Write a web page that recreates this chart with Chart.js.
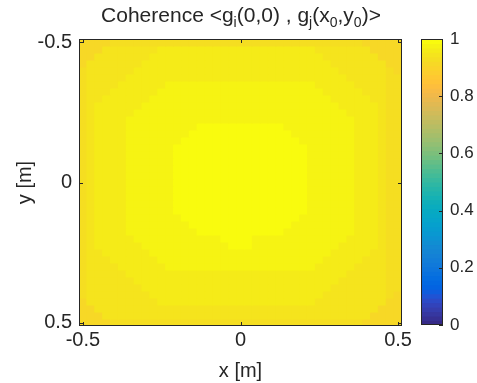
<!DOCTYPE html>
<html>
<head>
<meta charset="utf-8">
<script src="https://cdn.jsdelivr.net/npm/chart.js@4.4.1/dist/chart.umd.min.js"></script>
<style>
  body { margin: 0; background: #fff; }
  #wrap { position: relative; width: 477px; height: 383px; overflow: hidden; }
  #main { position: absolute; left: 0; top: 0; }
  #cbar { position: absolute; left: 400px; top: 0; }
  #title {
    position: absolute; left: 0; top: 4px; width: 482px; text-align: center;
    font: 21px "Liberation Sans", Arial, sans-serif;
    line-height: 22px; color: #262626; white-space: nowrap;
  }
  #title sub { font-size: 14px; vertical-align: -5px; line-height: 0; }
</style>
</head>
<body>
<div id="wrap">
  <canvas id="main" width="477" height="383"></canvas>
  <canvas id="cbar" width="77" height="383"></canvas>
  <div id="title">Coherence &lt;g<sub>i</sub>(0,0) , g<sub>j</sub>(x<sub>0</sub>,y<sub>0</sub>)&gt;</div>
</div>
<script>
// grid positions (m), used for both x and y
const gridPos = [-0.5, -0.475, -0.45, -0.425, -0.4, -0.375, -0.35, -0.325, -0.3, -0.275,
  -0.25, -0.225, -0.2, -0.175, -0.15, -0.125, -0.1, -0.075, -0.05, -0.025, 0,
  0.025, 0.05, 0.075, 0.1, 0.125, 0.15, 0.175, 0.2, 0.225, 0.25, 0.275, 0.3,
  0.325, 0.35, 0.375, 0.4, 0.425, 0.45, 0.475, 0.5];

// coherence, one string per row (top row = y -0.5)
// each digit d means 0.9 + d/100 ; spaces are only for reading
const coherenceRows = [
  "2222 3333333333 3333333333 3333333333 33 22222",
  "222 5555555 6666666666 6666666666 5555555 2222",
  "22 5555555 6666666666 6666666666 66 5555555 222",
  "2 5555555 6666666666 6666666666 6666 5555555 22",
  "3 555555 6666666666 6666666666 666666 555555 3 2",
  "3 55555 6666666666 6666666666 66666666 55555 33",
  "3 5555 666666 7777777777 777777777 66666 5555 33",
  "3 555 666666 7777777777 7777777777 7 66666 555 33",
  "3 55 666666 7777777777 7777777777 777 66666 55 33",
  "3 5 666666 7777777777 7777777777 77777 66666 5 33",
  "3 5 66666 7777777777 7777777777 7777777 6666 5 33",
  "3 5 6666 7777777777 7777777777 777777777 666 5 33",
  "3 5 6666 777777777 9999999999 9 777777777 666 5 33",
  "3 5 6666 77777777 9999999999 999 77777777 666 5 33",
  "3 5 6666 7777777 9999999999 99999 7777777 666 5 33",
  "3 5 6666 777777 9999999999 9999999 777777 666 5 33",
  "3 5 6666 777777 9999999999 9999999 777777 666 5 33",
  "3 5 6666 777777 9999999999 9999999 777777 666 5 33",
  "3 5 6666 777777 9999999999 9999999 777777 666 5 33",
  "3 5 6666 777777 9999999999 9999999 777777 666 5 33",
  "3 5 6666 777777 9999999999 9999999 777777 666 5 33",
  "3 5 6666 777777 9999999999 9999999 777777 666 5 33",
  "3 5 6666 777777 9999999999 9999999 777777 666 5 33",
  "3 5 6666 777777 9999999999 9999999 777777 666 5 33",
  "3 5 6666 777777 9999999999 9999999 777777 666 5 33",
  "3 5 6666 7777777 9999999999 99999 7777777 666 5 33",
  "3 5 6666 77777777 9999999999 999 77777777 666 5 33",
  "3 5 6666 777777777 9999999999 9 777777777 666 5 33",
  "3 5 66666 7777777777 7 9999 7777777777 77 6666 5 33",
  "3 5 666666 7777777777 7 999 7777777777 7 66666 5 33",
  "3 55 666666 7777777777 7777777777 777 66666 55 33",
  "3 555 666666 7777777777 7777777777 7 66666 555 33",
  "3 5555 666666 7777777777 777777777 66666 5555 33",
  "3 55555 6666666666 6666666666 66666666 55555 33",
  "3 555555 6666666666 6666666666 666666 555555 33",
  "3 5555555 6666666666 6666666666 6666 5555555 33",
  "3 55555555 6666666666 6666666666 66 55555555 3 2",
  "2 555555555 6666666666 6666666666 555555555 22",
  "22 5555555555 5555555555 5555555555 555555 222",
  "222 5555555555 5555555555 5555555555 5555 2222",
  "2222 3333333333 3333333333 3333333333 33 22222"
];

const xTicks = [-0.5, 0, 0.5];
const yTicks = [-0.5, 0, 0.5];
const cbarTicks = [0, 0.2, 0.4, 0.6, 0.8, 1];

// parula, 64 levels
const parula = ['#352A87','#363093','#3637A0','#353DAD','#3243BA','#2C4AC7','#2053D4','#0F5CDD',
  '#0363E1','#0268E1','#046DE0','#0871DE','#0D75DC','#1079DA','#127DD8','#1481D6',
  '#1485D4','#1389D3','#108ED2','#0C93D2','#0998D1','#079CCF','#06A0CD','#06A4CA',
  '#06A7C6','#07A9C2','#0AACBE','#0FAEB9','#15B1B4','#1DB3AF','#25B5A9','#2EB7A4',
  '#38B99E','#42BB98','#4DBC92','#59BD8C','#65BE86','#71BF80','#7CBF7B','#87BF77',
  '#92BF73','#9CBF6F','#A5BE6B','#AEBE67','#B7BD64','#C0BC60','#C8BC5D','#D1BB59',
  '#D9BA56','#E1B952','#E9B94E','#F1B94A','#F8BB44','#FDBE3D','#FFC337','#FEC832',
  '#FCCE2E','#FAD32A','#F7D826','#F5DE21','#F5E41D','#F5EB18','#F6F313','#F9FB0E'];

const ink = '#262626';
const fontFam = '"Liberation Sans", Arial, sans-serif';

function colorFor(v) {
  return parula[Math.max(0, Math.min(63, Math.floor(v * 64)))];
}

const coherence = coherenceRows.map(r => r.replace(/ /g, '').split('').map(d => 0.9 + Number(d) / 100));
const half = (gridPos[1] - gridPos[0]) / 2;
const lo = gridPos[0] - half, hi = gridPos[gridPos.length - 1] + half;

const datasets = coherence.map((row, j) => ({
  data: row.map((v, i) => ({ x: gridPos[i], y: [gridPos[j] - half, gridPos[j] + half] })),
  backgroundColor: row.map(colorFor),
  borderWidth: 0,
  grouped: false,
  barPercentage: 1,
  categoryPercentage: 1,
  inflateAmount: 0.5
}));

// box + inward tick marks like matlab
const axesBox = {
  id: 'axesBox',
  afterDraw(chart, args, opts) {
    const { ctx, chartArea: a, scales } = chart;
    const len = 4;
    ctx.save();
    ctx.strokeStyle = ink;
    ctx.lineWidth = 1;
    ctx.strokeRect(a.left + 0.5, a.top + 0.5, a.right - a.left - 1, a.bottom - a.top - 1);
    ctx.beginPath();
    (opts.xTicks || []).forEach(v => {
      const px = Math.round(scales.x.getPixelForValue(v)) + 0.5;
      ctx.moveTo(px, a.bottom); ctx.lineTo(px, a.bottom - len);
      ctx.moveTo(px, a.top); ctx.lineTo(px, a.top + len);
    });
    (opts.yTicks || []).forEach(v => {
      const py = Math.round(scales.y.getPixelForValue(v)) + 0.5;
      if (opts.left) { ctx.moveTo(a.left, py); ctx.lineTo(a.left + len, py); }
      ctx.moveTo(a.right, py); ctx.lineTo(a.right - len, py);
    });
    ctx.stroke();
    ctx.restore();
  }
};

new Chart(document.getElementById('main'), {
  type: 'bar',
  data: { datasets: datasets },
  options: {
    responsive: false,
    animation: false,
    devicePixelRatio: 1,
    layout: { padding: { left: 0, top: 39, right: 75, bottom: 0 } },
    plugins: {
      legend: { display: false },
      tooltip: { enabled: false },
      axesBox: { xTicks: xTicks, yTicks: yTicks, left: true }
    },
    scales: {
      x: {
        type: 'linear', offset: false, min: lo, max: hi,
        grid: { display: false, drawTicks: false }, border: { display: false },
        afterBuildTicks: s => { s.ticks = xTicks.map(v => ({ value: v })); },
        afterFit: s => { s.height = 57; },
        ticks: { padding: 2, color: ink, font: { family: fontFam, size: 20 }, callback: v => String(v) },
        title: { display: true, text: 'x [m]', color: ink, padding: 0, font: { family: fontFam, size: 20 } }
      },
      y: {
        type: 'linear', reverse: true, min: lo, max: hi,
        grid: { display: false, drawTicks: false }, border: { display: false },
        afterBuildTicks: s => { s.ticks = yTicks.map(v => ({ value: v })); },
        afterFit: s => { s.width = 79; },
        ticks: { padding: 7, color: ink, font: { family: fontFam, size: 20 }, callback: v => String(v) },
        title: { display: true, text: 'y [m]', color: ink, padding: { top: 13, bottom: 0 }, font: { family: fontFam, size: 20 } }
      }
    }
  },
  plugins: [axesBox]
});

// colorbar
new Chart(document.getElementById('cbar'), {
  type: 'bar',
  data: {
    datasets: [{
      data: parula.map((c, k) => ({ y: (k + 0.5) / 64, x: [0, 1] })),
      backgroundColor: parula,
      borderWidth: 0,
      barPercentage: 1,
      categoryPercentage: 1,
      inflateAmount: 0.5
    }]
  },
  options: {
    indexAxis: 'y',
    responsive: false,
    animation: false,
    devicePixelRatio: 1,
    layout: { padding: { left: 21, top: 39, right: 0, bottom: 58 } },
    plugins: {
      legend: { display: false },
      tooltip: { enabled: false },
      axesBox: { yTicks: cbarTicks, left: false }
    },
    scales: {
      x: { type: 'linear', display: false, min: 0, max: 1 },
      y: {
        type: 'linear', position: 'right', offset: false, min: 0, max: 1,
        grid: { display: false, drawTicks: false }, border: { display: false },
        afterBuildTicks: s => { s.ticks = cbarTicks.map(v => ({ value: v })); },
        afterFit: s => { s.width = 34; },
        ticks: { padding: 7, color: ink, font: { family: fontFam, size: 17 }, callback: v => String(v) }
      }
    }
  },
  plugins: [axesBox]
});
</script>
</body>
</html>
